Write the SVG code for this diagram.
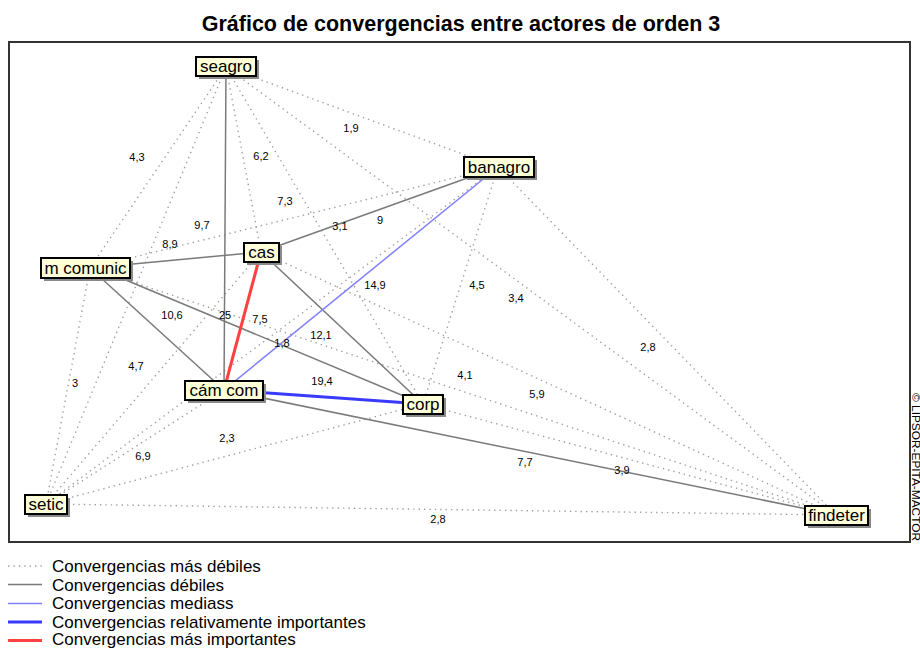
<svg xmlns="http://www.w3.org/2000/svg" width="920" height="649" viewBox="0 0 920 649">
<style>
.t{font-family:"Liberation Sans",Arial,sans-serif;fill:#000}
.title{font-size:21.5px;font-weight:bold}
.lbl{font-size:11px;text-anchor:middle}
.nt{font-size:17px;text-anchor:middle}
.lg{font-size:17px}
.dot{stroke:#a0a0a0;stroke-width:1.4;stroke-dasharray:1.4 4;fill:none}
.gr{stroke:#7a7a7a;stroke-width:1.5;fill:none}
.bl{stroke:#8080ff;stroke-width:1.5;fill:none}
.bt{stroke:#3a3aff;stroke-width:3;fill:none}
.rd{stroke:#ff4040;stroke-width:3;fill:none}
.box{fill:#ffffd8;stroke:#000;stroke-width:2}
.sh{fill:#8a8a8a}
</style>
<rect x="0" y="0" width="920" height="649" fill="#fff"/>
<text class="t title" x="461" y="31" text-anchor="middle">Gráfico de convergencias entre actores de orden 3</text>
<rect x="9" y="42" width="901" height="500" fill="#fff" stroke="#333" stroke-width="2"/>
<text class="t" font-size="10" textLength="148" lengthAdjust="spacingAndGlyphs" transform="translate(912,393) rotate(90)">© LIPSOR-EPITA-MACTOR</text>
<g id="connectors">
<line class="dot" x1="226" y1="67" x2="498" y2="167"/>
<line class="dot" x1="226" y1="67" x2="261" y2="252"/>
<line class="dot" x1="226" y1="67" x2="90" y2="268"/>
<line class="dot" x1="226" y1="67" x2="423" y2="404"/>
<line class="dot" x1="226" y1="67" x2="46" y2="504"/>
<line class="dot" x1="226" y1="67" x2="836" y2="515"/>
<line class="dot" x1="498" y1="167" x2="90" y2="268"/>
<line class="dot" x1="498" y1="167" x2="423" y2="404"/>
<line class="dot" x1="498" y1="167" x2="46" y2="504"/>
<line class="dot" x1="498" y1="167" x2="836" y2="515"/>
<line class="dot" x1="261" y1="252" x2="46" y2="504"/>
<line class="dot" x1="261" y1="252" x2="836" y2="515"/>
<line class="dot" x1="90" y1="268" x2="46" y2="504"/>
<line class="dot" x1="90" y1="268" x2="836" y2="515"/>
<line class="dot" x1="224" y1="390" x2="46" y2="504"/>
<line class="dot" x1="423" y1="404" x2="46" y2="504"/>
<line class="dot" x1="423" y1="404" x2="836" y2="515"/>
<line class="dot" x1="46" y1="504" x2="836" y2="515"/>
<line class="gr" x1="226" y1="67" x2="224" y2="390"/>
<line class="gr" x1="90" y1="268" x2="261" y2="252"/>
<line class="gr" x1="261" y1="252" x2="498" y2="167"/>
<line class="gr" x1="90" y1="268" x2="224" y2="390"/>
<line class="gr" x1="97" y1="268" x2="423" y2="404"/>
<line class="gr" x1="261" y1="252" x2="423" y2="404"/>
<line class="gr" x1="224" y1="390" x2="836" y2="515"/>
<line class="bl" x1="224" y1="390" x2="498" y2="167"/>
<line class="bt" x1="224" y1="390" x2="423" y2="404"/>
<line class="rd" x1="261" y1="252" x2="224" y2="390"/>
</g>
<g id="labels" class="t lbl">
<text x="137" y="161">4,3</text>
<text x="261" y="160">6,2</text>
<text x="351" y="132">1,9</text>
<text x="285" y="205">7,3</text>
<text x="202" y="229">9,7</text>
<text x="170" y="248">8,9</text>
<text x="340" y="230">3,1</text>
<text x="380" y="224">9</text>
<text x="375" y="289">14,9</text>
<text x="477" y="289">4,5</text>
<text x="516" y="302">3,4</text>
<text x="648" y="351">2,8</text>
<text x="172" y="319">10,6</text>
<text x="225" y="319">25</text>
<text x="260" y="323">7,5</text>
<text x="282" y="347">1,8</text>
<text x="321" y="339">12,1</text>
<text x="322" y="385">19,4</text>
<text x="465" y="379">4,1</text>
<text x="537" y="398">5,9</text>
<text x="75" y="387">3</text>
<text x="136" y="370">4,7</text>
<text x="227" y="442">2,3</text>
<text x="143" y="460">6,9</text>
<text x="525" y="466">7,7</text>
<text x="622" y="474">3,9</text>
<text x="438" y="523">2,8</text>
</g>
<g id="seagro"><rect class="sh" x="199" y="60" width="60" height="19"/><rect class="box" x="196" y="57" width="60" height="19"/><text class="t nt" x="226" y="72">seagro</text></g>
<g id="banagro"><rect class="sh" x="467" y="160" width="70" height="20"/><rect class="box" x="464" y="157" width="70" height="20"/><text class="t nt" x="499" y="173">banagro</text></g>
<g id="cas"><rect class="sh" x="247" y="246" width="35" height="19"/><rect class="box" x="244" y="243" width="35" height="19"/><text class="t nt" x="261.5" y="258">cas</text></g>
<g id="m_comunic"><rect class="sh" x="44" y="261" width="89" height="20"/><rect class="box" x="41" y="258" width="89" height="20"/><text class="t nt" x="85.5" y="274">m comunic</text></g>
<g id="cam_com"><rect class="sh" x="188" y="384" width="78" height="19"/><rect class="box" x="185" y="381" width="78" height="19"/><text class="t nt" x="224" y="396">cám com</text></g>
<g id="corp"><rect class="sh" x="406" y="398" width="40" height="19"/><rect class="box" x="403" y="395" width="40" height="19"/><text class="t nt" x="423" y="410">corp</text></g>
<g id="setic"><rect class="sh" x="28" y="498" width="42" height="19"/><rect class="box" x="25" y="495" width="42" height="19"/><text class="t nt" x="46" y="510">setic</text></g>
<g id="findeter"><rect class="sh" x="808" y="509" width="63" height="19"/><rect class="box" x="805" y="506" width="63" height="19"/><text class="t nt" x="836.5" y="521">findeter</text></g>
<g id="legend">
<line class="dot" x1="8" y1="566" x2="42" y2="566"/>
<line class="gr" x1="8" y1="584.5" x2="42" y2="584.5"/>
<line class="bl" x1="8" y1="603.5" x2="42" y2="603.5"/>
<line class="bt" x1="8" y1="622" x2="42" y2="622"/>
<line class="rd" x1="8" y1="640.5" x2="42" y2="640.5"/>
<text class="t lg" x="52" y="572">Convergencias más débiles</text>
<text class="t lg" x="52" y="590.5">Convergencias débiles</text>
<text class="t lg" x="52" y="609">Convergencias mediass</text>
<text class="t lg" x="52" y="627.5">Convergencias relativamente importantes</text>
<text class="t lg" x="52" y="645">Convergencias más importantes</text>
</g>
</svg>
